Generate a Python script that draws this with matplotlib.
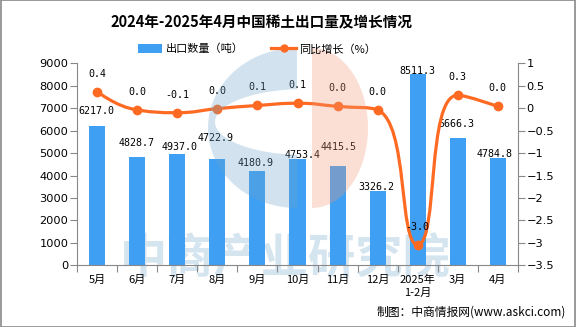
import numpy as np
import matplotlib
matplotlib.use("Agg")
import matplotlib.pyplot as plt
from matplotlib.path import Path
from matplotlib.patches import PathPatch, Patch, Rectangle, Polygon
from matplotlib.lines import Line2D
from matplotlib.ticker import FuncFormatter, FixedLocator

plt.rcParams['font.family'] = ['Noto Sans CJK SC', 'DejaVu Sans']

months = ["5月", "6月", "7月", "8月", "9月", "10月", "11月", "12月", "2025年\n1-2月", "3月", "4月"]
export_t = [6217.0, 4828.7, 4937.0, 4722.9, 4180.9, 4753.4, 4415.5, 3326.2, 8511.3, 5666.3, 4784.8]
growth = [0.37, -0.04, -0.1, -0.01, 0.06, 0.11, 0.04, -0.04, -3.04, 0.29, 0.04]

# label offsets (px above bar top) / x shift, as in the source layout
bar_lab_dy = [15, 14, 7, 21, 8, 4, 19.5, 3.3, 3.6, 14, 3.7]
bar_lab_dx = [-1, -1, 2, -2, -2, 5, 1.5, -1.5, 0, -1, -3]

blue = "#3f9ff2"
orange = "#fe6a22"
gray = "#888888"

W, H = 576, 327
fig = plt.figure(figsize=(W / 100, H / 100), dpi=100)
px = 72 / 100  # points per pixel

ax = fig.add_axes([77.3 / W, 1 - 265.3 / H, 440.4 / W, 202 / H])
ax2 = ax.twinx()
ax.patch.set_visible(False)
ax2.patch.set_visible(False)

x = np.arange(len(months))
ax.bar(x, export_t, width=0.4, color=blue, zorder=2)
ax.set_xlim(-0.5, len(months) - 0.5)
ax.set_ylim(0, 9000)
ax.set_yticks(np.arange(0, 9001, 1000))
ax.set_xticks(x)
ax.set_xticklabels(months, fontsize=8, linespacing=1.3)
ax.xaxis.set_minor_locator(FixedLocator(np.arange(-0.5, len(months), 1)))
ax.tick_params(axis='x', which='major', length=0, pad=7)
ax.tick_params(axis='x', which='minor', length=5, width=0.8, color=gray, direction='out')
ax.tick_params(axis='y', length=5, width=0.8, color=gray, pad=1.5, labelsize=8.2)
for lab in ax.get_yticklabels():
    lab.set_family('DejaVu Sans')

for i, v in enumerate(export_t):
    ax.annotate(f"{v:.1f}", (x[i], v), xytext=(bar_lab_dx[i] * px, bar_lab_dy[i] * px),
                textcoords='offset points', ha='center', va='center',
                fontsize=7.2, family='DejaVu Sans Mono', zorder=4)

ax2.set_ylim(-3.5, 1)

# smooth growth line: bezier with echarts-style clamped control points
scale = np.array([440.4 / 11, 202 / 4.5])  # px per data unit
pts = np.column_stack([x, growth]).astype(float) * scale
n = len(pts)
cin = pts.copy()
cout = pts.copy()
sm = 0.5
for i in range(1, n - 1):
    p, pp, pn = pts[i], pts[i - 1], pts[i + 1]
    v = pn - pp
    d0 = np.linalg.norm(p - pp)
    d1 = np.linalg.norm(pn - p)
    ratio = d1 / (d0 + d1)
    co = p + v * sm * ratio
    co = np.clip(co, np.minimum(p, pn), np.maximum(p, pn))
    ci = p - (co - p) * d0 / d1
    ci = np.clip(ci, np.minimum(p, pp), np.maximum(p, pp))
    co = p + (p - ci) * d1 / d0
    cin[i], cout[i] = ci, co
pts, cin, cout = pts / scale, cin / scale, cout / scale
verts = [tuple(pts[0])]
codes = [Path.MOVETO]
for i in range(n - 1):
    verts += [tuple(cout[i]), tuple(cin[i + 1]), tuple(pts[i + 1])]
    codes += [Path.CURVE4] * 3
ax2.add_patch(PathPatch(Path(verts, codes), facecolor='none', edgecolor=orange, lw=2.3, zorder=3))
ax2.plot(x, growth, 'o', color=orange, ms=6, zorder=4)
ax2.set_yticks(np.arange(-3.5, 1.01, 0.5))
ax2.yaxis.set_major_formatter(FuncFormatter(lambda v, p: f"{v:g}".replace("-", "\u2212")))
ax2.tick_params(axis='y', length=5, width=0.8, color=gray, pad=1.5, labelsize=8.2)
for lab in ax2.get_yticklabels():
    lab.set_family('DejaVu Sans')

for i, v in enumerate(growth):
    s = f"{v:.1f}"
    if s == "-0.0":
        s = "0.0"
    ax2.annotate(s, (x[i], v), xytext=(0, 18 * px), textcoords='offset points',
                 ha='center', va='center', fontsize=7.2, family='DejaVu Sans Mono', zorder=5)

for a in (ax, ax2):
    a.spines['top'].set_visible(False)
    for s in ('left', 'right', 'bottom'):
        a.spines[s].set_color(gray)
        a.spines[s].set_linewidth(0.8)
ax.spines['right'].set_visible(False)
ax2.spines['left'].set_visible(False)
ax2.spines['bottom'].set_visible(False)

# title and legend
fig.text(261 / W, 1 - 22 / H, "2024年-2025年4月中国稀土出口量及增长情况",
         ha='center', va='center', fontsize=10.5, fontweight='bold')
handles = [Patch(facecolor=blue, edgecolor='none'),
           Line2D([0], [0], color=orange, lw=2.3, marker='o', ms=5)]
fig.legend(handles, ["出口数量（吨）", "同比增长（%）"], loc='center',
           bbox_to_anchor=(257 / W, 1 - 49 / H), ncol=2, frameon=False,
           fontsize=8, handlelength=2.2, handleheight=0.8, columnspacing=2.5,
           handletextpad=0.3)

# source note
fig.text(566 / W, 1 - 312 / H, "制图：中商情报网(www.askci.com)", ha='right', va='center', fontsize=8.5)

# watermark text below the bars
fig.text(285 / W, 1 - 258 / H, "中商产业研究院", ha='center', va='center', fontsize=34,
         fontweight='bold', color="#d5e5f0", zorder=-1)

# logo overlay in pixel coordinates
ov = fig.add_axes([0, 0, 1, 1])
ov.set_xlim(0, W)
ov.set_ylim(H, 0)
ov.axis('off')
ov.set_zorder(5)
cx, cy = 297, 128
t = np.linspace(np.pi / 2, 3 * np.pi / 2, 60)
outer = np.column_stack([cx + 89 * np.cos(t), cy - 80 * np.sin(t)])
hx, hy, hrx, hry = 305, 122, 90, 33
s0 = np.pi / 2 + np.arcsin((hx - cx) / hrx)
s = np.linspace(s0, 2 * np.pi - s0, 60)
inner = np.column_stack([hx + hrx * np.cos(s), hy + hry * np.sin(s)])
ov.add_patch(Polygon(np.vstack([outer, inner]), closed=True, facecolor="#6ca5ca",
                     edgecolor='none', alpha=0.3))
t2 = np.linspace(-np.pi / 2, np.pi / 2, 60)
right = np.column_stack([312 + 56 * np.cos(t2), cy - 80 * np.sin(t2)])
ov.add_patch(Polygon(right, closed=True, facecolor="#f29876", edgecolor='none', alpha=0.3))

fig.patches.append(Rectangle((0.0009, 0.0015), 0.9982, 0.997, transform=fig.transFigure,
                             fill=False, edgecolor=gray, lw=1.2))

plt.savefig("out.png", dpi=100)
